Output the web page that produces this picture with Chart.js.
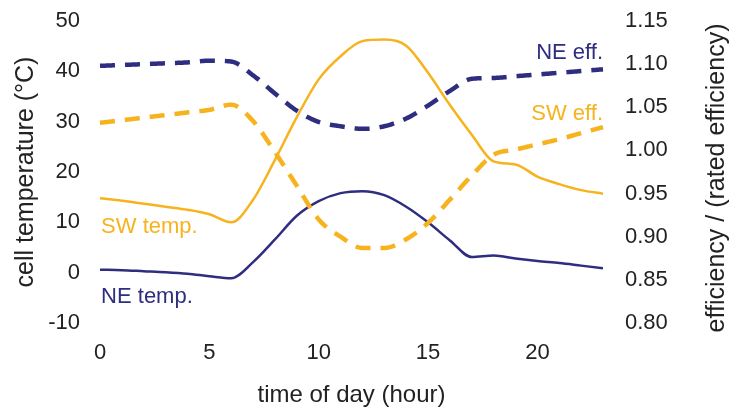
<!DOCTYPE html>
<html>
<head>
<meta charset="utf-8">
<script src="https://cdn.jsdelivr.net/npm/chart.js@4"></script>
<style>
  html, body { margin: 0; padding: 0; background: #fff; }
</style>
</head>
<body>
<canvas id="cellChart" width="733" height="411"></canvas>
<script>
// hourly readings, hour 0..23
var hours = [0, 1, 2, 3, 4, 5, 6, 7, 8, 9, 10, 11, 12, 13, 14, 15, 16, 17, 18, 19, 20, 21, 22, 23];
var neTemp = [0.6, 0.5, 0.3, 0.1, -0.2, -0.7, -1.1, 2.1, 6.6, 11.3, 14.2, 15.8, 16.2, 15.4, 13.1, 10.0, 6.4, 3.1, 3.4, 2.8, 2.3, 1.9, 1.4, 0.9];
var swTemp = [14.8, 14.3, 13.7, 13.1, 12.5, 11.6, 10.0, 14.5, 22.4, 30.9, 38.4, 43.0, 46.0, 46.3, 45.1, 39.7, 33.3, 27.4, 22.1, 21.5, 19.1, 17.6, 16.4, 15.7];
var neEff = [1.098, 1.099, 1.100, 1.101, 1.102, 1.104, 1.103, 1.087, 1.066, 1.046, 1.033, 1.028, 1.025, 1.028, 1.037, 1.052, 1.069, 1.083, 1.084, 1.086, 1.088, 1.090, 1.092, 1.094];
var swEff = [1.032, 1.035, 1.038, 1.041, 1.044, 1.047, 1.053, 1.034, 0.998, 0.959, 0.920, 0.900, 0.887, 0.887, 0.897, 0.916, 0.943, 0.971, 0.995, 1.001, 1.007, 1.013, 1.020, 1.027];

var hourTicks = [0, 5, 10, 15, 20];
var tempTicks = [-10, 0, 10, 20, 30, 40, 50];
var effTicks = [0.80, 0.85, 0.90, 0.95, 1.00, 1.05, 1.10, 1.15];

var NAVY = '#2e2d80';
var ORANGE = '#f6b31d';
var FONT = '"Liberation Sans", Arial, Helvetica, sans-serif';

function pairs(ys) {
  return hours.map(function (h, i) { return {x: h, y: ys[i]}; });
}

function fixedTicks(list) {
  return function (scale) {
    scale.ticks = list.map(function (v) { return {value: v}; });
  };
}

// pin each axis box size and stop tick labels from pushing the plot area in
function fixSize(prop, size) {
  return function (s) {
    s[prop] = size;
    s.paddingTop = s.paddingBottom = s.paddingLeft = s.paddingRight = 0;
  };
}

// series labels sit next to the curves, placed in data units
var curveLabels = [
  {text: 'NE eff.', x: 23, y: 1.106, axis: 'yE', color: NAVY, align: 'right'},
  {text: 'SW eff.', x: 23, y: 1.035, axis: 'yE', color: ORANGE, align: 'right'},
  {text: 'SW temp.', x: 0.05, y: 7.9, axis: 'yT', color: ORANGE, align: 'left'},
  {text: 'NE temp.', x: 0.05, y: -6.0, axis: 'yT', color: NAVY, align: 'left'}
];

// dashed efficiency curves: the dash is laid along the curve by hand
var DASH_ON = 15, DASH_OFF = 10;

function strokeDashed(ctx, pts) {
  // flatten the bezier pieces chart.js computed into a polyline
  var poly = [[pts[0].x, pts[0].y]];
  for (var i = 1; i < pts.length; i++) {
    var a = pts[i - 1], b = pts[i];
    var c1x = a.cp2x !== undefined ? a.cp2x : a.x, c1y = a.cp2y !== undefined ? a.cp2y : a.y;
    var c2x = b.cp1x !== undefined ? b.cp1x : b.x, c2y = b.cp1y !== undefined ? b.cp1y : b.y;
    for (var k = 1; k <= 24; k++) {
      var t = k / 24, u = 1 - t;
      poly.push([
        u * u * u * a.x + 3 * u * u * t * c1x + 3 * u * t * t * c2x + t * t * t * b.x,
        u * u * u * a.y + 3 * u * u * t * c1y + 3 * u * t * t * c2y + t * t * t * b.y
      ]);
    }
  }
  // one short stroke per dash
  var drawing = true, left = DASH_ON, dash = [poly[0]];
  for (var j = 1; j < poly.length; j++) {
    var x0 = poly[j - 1][0], y0 = poly[j - 1][1], x1 = poly[j][0], y1 = poly[j][1];
    var seg = Math.hypot(x1 - x0, y1 - y0), pos = 0;
    while (seg - pos > left) {
      pos += left;
      var f = pos / seg, p = [x0 + (x1 - x0) * f, y0 + (y1 - y0) * f];
      if (drawing) {
        dash.push(p);
        strokePiece(ctx, dash);
        dash = [];
      } else {
        dash = [p];
      }
      drawing = !drawing;
      left = drawing ? DASH_ON : DASH_OFF;
    }
    left -= seg - pos;
    if (drawing) dash.push([x1, y1]);
  }
  if (drawing && dash.length > 1) strokePiece(ctx, dash);
}

function strokePiece(ctx, piece) {
  ctx.beginPath();
  ctx.moveTo(piece[0][0], piece[0][1]);
  for (var n = 1; n < piece.length; n++) ctx.lineTo(piece[n][0], piece[n][1]);
  ctx.stroke();
}

var dashPlugin = {
  id: 'dashedCurves',
  beforeDatasetDraw: function (chart, args) {
    if (chart.data.datasets[args.index].dashed) return false;
  },
  afterDatasetsDraw: function (chart) {
    var ctx = chart.ctx;
    chart.data.datasets.forEach(function (ds, i) {
      if (!ds.dashed) return;
      var meta = chart.getDatasetMeta(i);
      meta.dataset.updateControlPoints(chart.chartArea, 'x');
      ctx.save();
      ctx.strokeStyle = ds.borderColor;
      ctx.lineWidth = ds.borderWidth;
      ctx.lineCap = 'butt';
      ctx.lineJoin = 'round';
      strokeDashed(ctx, meta.data);
      ctx.restore();
    });
  }
};

var labelPlugin = {
  id: 'curveLabels',
  afterDraw: function (chart) {
    var ctx = chart.ctx;
    var xs = chart.scales.x;
    ctx.save();
    ctx.font = '22px ' + FONT;
    ctx.textBaseline = 'alphabetic';
    curveLabels.forEach(function (l) {
      ctx.fillStyle = l.color;
      ctx.textAlign = l.align;
      ctx.fillText(l.text, xs.getPixelForValue(l.x), chart.scales[l.axis].getPixelForValue(l.y));
    });
    // right axis title reads bottom to top
    var area = chart.chartArea;
    ctx.translate(717, (area.top + area.bottom) / 2 + 6);
    ctx.rotate(-Math.PI / 2);
    ctx.fillStyle = '#222';
    ctx.textAlign = 'center';
    ctx.textBaseline = 'middle';
    ctx.font = '25px ' + FONT;
    ctx.fillText('efficiency / (rated efficiency)', 0, 0);
    ctx.restore();
  }
};

var solid = {borderWidth: 2.5, pointRadius: 0, fill: false, cubicInterpolationMode: 'monotone'};
var dashed = {borderWidth: 4.5, pointRadius: 0, fill: false, cubicInterpolationMode: 'monotone', dashed: true};

var datasets = [
  Object.assign({label: 'SW temp.', data: pairs(swTemp), borderColor: ORANGE, yAxisID: 'yT'}, solid),
  Object.assign({label: 'NE temp.', data: pairs(neTemp), borderColor: NAVY, yAxisID: 'yT'}, solid),
  Object.assign({label: 'SW eff.', data: pairs(swEff), borderColor: ORANGE, yAxisID: 'yE'}, dashed),
  Object.assign({label: 'NE eff.', data: pairs(neEff), borderColor: NAVY, yAxisID: 'yE'}, dashed)
];

var tickFont = {family: FONT, size: 22};

var ctx = document.getElementById('cellChart').getContext('2d');
new Chart(ctx, {
  type: 'line',
  data: {datasets: datasets},
  options: {
    responsive: false,
    animation: false,
    layout: {padding: {top: 21, left: 0, right: 0, bottom: 0}},
    plugins: {legend: {display: false}, tooltip: {enabled: false}},
    scales: {
      x: {
        type: 'linear', min: 0, max: 23,
        grid: {display: false, drawTicks: false},
        border: {display: false},
        afterBuildTicks: fixedTicks(hourTicks),
        afterFit: fixSize('height', 88),
        ticks: {font: tickFont, color: '#222', padding: 17},
        title: {display: true, text: 'time of day (hour)', font: {family: FONT, size: 24}, color: '#222', padding: {top: 0, bottom: 1}}
      },
      yT: {
        type: 'linear', position: 'left', min: -10, max: 50,
        grid: {display: false, drawTicks: false},
        border: {display: false},
        afterBuildTicks: fixedTicks(tempTicks),
        afterFit: fixSize('width', 100),
        ticks: {font: tickFont, color: '#222', padding: 20},
        title: {display: true, text: 'cell temperature (°C)', font: {family: FONT, size: 25}, color: '#222', padding: {top: 11, bottom: 0}}
      },
      yE: {
        type: 'linear', position: 'right', min: 0.80, max: 1.15,
        grid: {display: false, drawTicks: false},
        border: {display: false},
        afterBuildTicks: fixedTicks(effTicks),
        afterFit: fixSize('width', 130),
        ticks: {font: tickFont, color: '#222', padding: 22,
          callback: function (v) { return v.toFixed(2); }}
      }
    }
  },
  plugins: [dashPlugin, labelPlugin]
});
</script>
</body>
</html>
